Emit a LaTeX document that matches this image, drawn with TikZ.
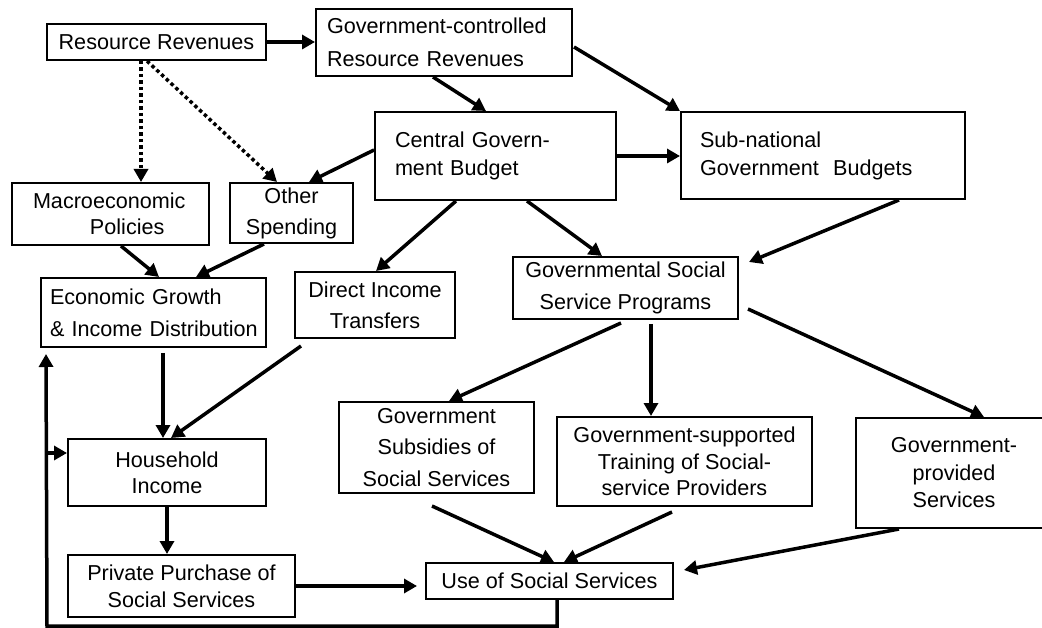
\documentclass[tikz,border=0pt]{standalone}
\usepackage{fontspec}
\setmainfont{Liberation Sans}
\usetikzlibrary{arrows.meta,calc}
\begin{document}
\begin{tikzpicture}[x=1pt,y=-1pt,
  bx/.style={draw, line width=2pt, inner sep=0pt, font=\fontsize{21.6}{#1}\selectfont},
  bx/.default=27,
  arr/.style={line width=3.5pt, -{Triangle[length=13pt,width=14pt]}},
  dotarr/.style={arr, dash pattern=on 3.5pt off 3pt}]
\useasboundingbox (0,0) rectangle (1042,628);

% boxes
\node[bx, minimum width=219pt, minimum height=36pt, align=center] (rr) at (156.5,42) {Resource Revenues};
\node[bx=33, text width=234pt, inner xsep=11pt, minimum height=67pt, align=left] (gcr) at (444,42.5) {\mbox{Government-controlled}\\\mbox{Resource Revenues}};
\node[bx=28, text width=201pt, inner xsep=20pt, minimum height=88pt, align=left] (cgb) at (495.5,156) {\mbox{Central Govern-}\\\mbox{ment Budget}};
\node[bx=28, text width=246pt, inner xsep=19pt, minimum height=87pt, align=left] (snb) at (823,155.5) {\mbox{Sub-national}\\\mbox{Government\ \ Budgets}};
\node[bx=26, text width=155pt, inner xsep=21pt, minimum height=62pt, align=left] (mac) at (110.5,214) {\mbox{Macroeconomic}\\\hspace*{57pt}\mbox{Policies}};
\node[bx=31, minimum width=123pt, minimum height=60pt, align=center] (osp) at (291.5,213) {Other\\Spending};
\node[bx=32, text width=207pt, inner xsep=9pt, minimum height=69pt, align=left] (egid) at (153.5,312.5) {\mbox{Economic Growth}\\\mbox{\& Income Distribution}};
\node[bx=31, minimum width=160pt, minimum height=66pt, align=center] (dit) at (375,305) {Direct Income\\Transfers};
\node[bx=32, minimum width=225pt, minimum height=62pt, align=center] (gssp) at (625.5,288) {Governmental Social\\Service Programs};
\node[bx=26, minimum width=198pt, minimum height=67pt, align=center] (hi) at (167,472.5) {Household\\Income};
\node[bx=27, minimum width=227pt, minimum height=62pt, align=center] (pp) at (181.5,586) {Private Purchase of\\Social Services};
\node[bx=31.5, minimum width=195pt, minimum height=91pt, align=center] (gs) at (436.5,447.5) {Government\\Subsidies of\\Social Services};
\node[bx=26.5, minimum width=255pt, minimum height=89pt, align=center] (gt) at (684.5,461.5) {Government-supported\\Training of Social-\\service Providers};
\node[bx=27.5, minimum width=196pt, minimum height=110pt, align=center] (gp) at (954,473) {Government-\\provided\\Services};
\node[bx, minimum width=247pt, minimum height=36pt, align=center] (use) at (549.5,581) {Use of Social Services};

% connectors
\draw[arr] (rr.east) -- (rr.east -| gcr.west);
\draw[arr] ($(gcr.south west)+(118,0)$) -- ($(cgb.north west)+(112,0)$);
\draw[arr] ($(gcr.east)+(1,4.5)$) -- (snb.north west);
\draw[arr] (cgb.east) -- (cgb.east -| snb.west);
\draw[arr] ($(cgb.west)+(0,-6)$) -- ($(osp.north west)+(80,0)$);
\draw[dotarr] ($(rr.south west)+(95,0)$) -- ($(rr.south west |- mac.north)+(95,0)$);
\draw[dotarr] ($(rr.south west)+(101,0)$) -- ($(osp.north west)+(48,0)$);
\draw[arr] ($(mac.south west)+(110,0)$) -- ($(egid.north west)+(119,0)$);
\draw[arr] ($(osp.south west)+(35,0)$) -- ($(egid.north west)+(156,0)$);
\draw[arr] ($(cgb.south west)+(82,0)$) -- ($(dit.north west)+(82,0)$);
\draw[arr] ($(cgb.south west)+(153,0)$) -- ($(gssp.north west)+(90,0)$);
\draw[arr] ($(snb.south west)+(219,0)$) -- ($(gssp.north east)+(10,6)$);
\draw[arr] ($(dit.south west)+(7,7)$) -- ($(hi.north west)+(104,0)$);
\draw[arr] ($(egid.south west)+(123,5)$) -- ($(egid.south west |- hi.north)+(123,0)$);
\draw[arr] (hi.south) -- (hi.south |- pp.north);
\draw[arr] (pp.east) -- ($(pp.east -| use.west)+(-8,0)$);
\draw[arr] ($(gssp.south west)+(109,3)$) -- ($(gs.north west)+(111,0)$);
\draw[arr] ($(gssp.south west)+(139,4)$) -- ($(gssp.south west |- gt.north)+(139,0)$);
\draw[arr] ($(gssp.south east)+(9,-11)$) -- ($(gp.north west)+(129,0)$);
\draw[arr] ($(gs.south west)+(94,12)$) -- ($(use.north west)+(129,0)$);
\draw[arr] ($(gt.south west)+(116,5)$) -- ($(use.north west)+(139,0)$);
\draw[arr] ($(gp.south west)+(44,0)$) -- ($(use.north east)+(10,8)$);
\coordinate (lp) at (47,626);
\coordinate (br) at (47,453);
\draw[arr] ($(use.south west)+(132,0)$) |- (lp) -- ($(egid.south west)+(6,6)$);
\draw[arr] (br) -- (br -| hi.west);
\end{tikzpicture}
\end{document}
